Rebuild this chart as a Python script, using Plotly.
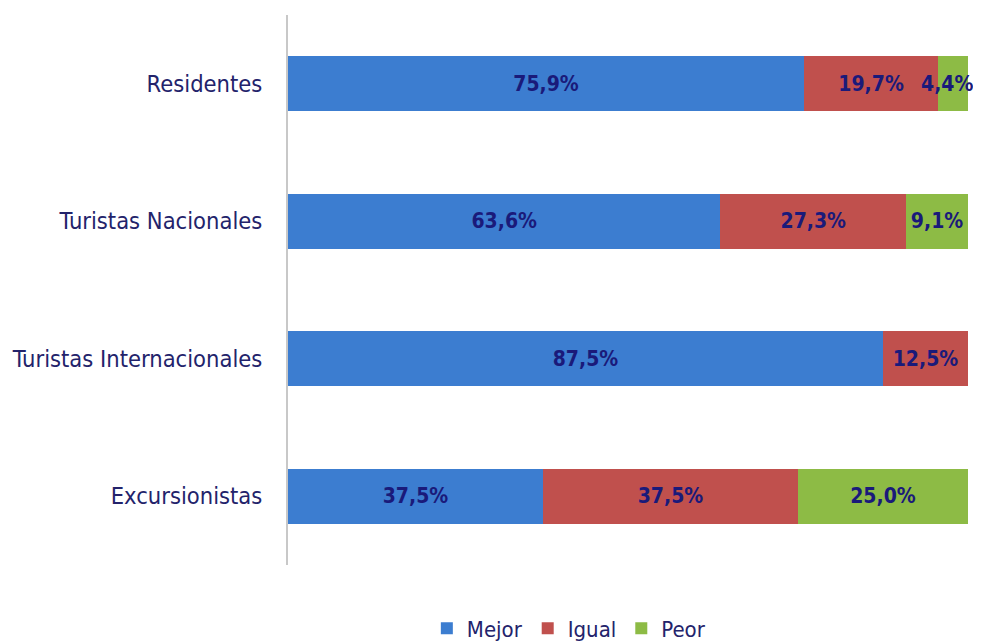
import plotly.graph_objects as go

# datos (porcentajes)
categorias = ["Residentes", "Turistas Nacionales", "Turistas Internacionales", "Excursionistas"]
mejor = [75.9, 63.6, 87.5, 37.5]
igual = [19.7, 27.3, 12.5, 37.5]
peor = [4.4, 9.1, 0.0, 25.0]

series = [("Mejor", mejor, "#3C7DD0"), ("Igual", igual, "#C0504D"), ("Peor", peor, "#8DBB45")]

FONT = "DejaVu Sans Condensed, Liberation Sans, sans-serif"
NAVY = "#23236B"
LABEL_FONT = dict(family=FONT, size=21, color="#1A1A7A", weight="bold")


def fmt(v):
    return f"{v:.1f}%".replace(".", ",")


fig = go.Figure()
base = [0.0] * len(categorias)
for name, vals, color in series:
    # los segmentos muy estrechos llevan la etiqueta como anotación (sobresale de la barra)
    textos = [fmt(v) if v >= 6 else "" for v in vals]
    fig.add_trace(go.Bar(
        y=categorias,
        x=vals,
        name=name,
        orientation="h",
        marker=dict(color=color, line=dict(width=0)),
        text=textos,
        textposition="inside",
        insidetextanchor="middle",
        textangle=0,
        constraintext="none",
        textfont=LABEL_FONT,
        hoverinfo="skip",
    ))
    for i, v in enumerate(vals):
        if 0 < v < 6:
            fig.add_annotation(x=base[i] + v / 2, y=categorias[i], text=fmt(v),
                               showarrow=False, xshift=-6, font=LABEL_FONT)
    base = [b + v for b, v in zip(base, vals)]

# la página tiene 8px de margen en el body, se compensa aquí
fig.update_layout(
    barmode="stack",
    bargap=0.6,
    width=973,
    height=633,
    margin=dict(l=280, r=13, t=7, b=76),
    paper_bgcolor="white",
    plot_bgcolor="white",
    font=dict(family=FONT, color=NAVY, size=21),
    xaxis=dict(range=[0, 100], visible=False, showgrid=False),
    yaxis=dict(
        categoryorder="array",
        categoryarray=categorias[::-1],
        showline=True,
        linecolor="#C8C8C8",
        linewidth=2,
        ticks="",
        automargin=False,
        ticklabelstandoff=19,
        tickfont=dict(family=FONT, size=23.5, color=NAVY),
        showgrid=False,
    ),
    legend=dict(
        orientation="h",
        traceorder="normal",
        x=0.413, xanchor="center",
        yref="container",
        y=0.02, yanchor="middle",
        font=dict(family=FONT, size=22, color=NAVY),
        itemwidth=30,
    ),
    showlegend=True,
)

fig.write_html("out.html")
